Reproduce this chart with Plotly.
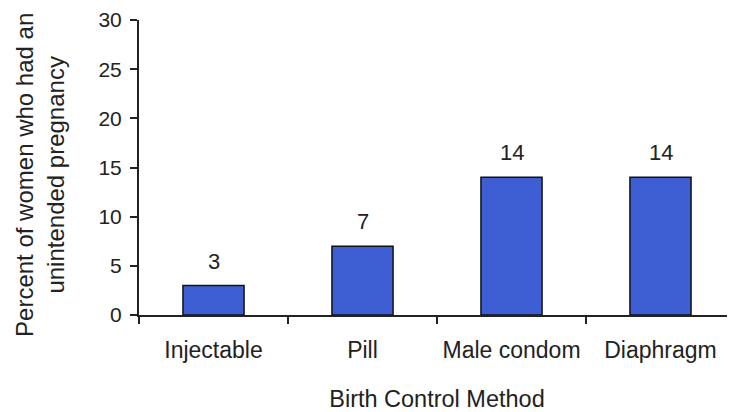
import plotly.graph_objects as go

methods = ["Injectable", "Pill", "Male condom", "Diaphragm"]
percent = [3, 7, 14, 14]
y_ticks = [0, 5, 10, 15, 20, 25, 30]
y_title = "Percent of women who had an<br>unintended pregnancy"
x_title = "Birth Control Method"

font = "Liberation Sans, Arial, sans-serif"
ink = "#222222"

fig = go.Figure(go.Bar(
    x=methods, y=percent,
    width=0.41,
    marker=dict(color="#3d5fd3", line=dict(color="#111111", width=1.5)),
))

for m, v in zip(methods, percent):
    fig.add_annotation(x=m, y=v, text=str(v), showarrow=False,
                       yanchor="bottom", yshift=10,
                       font=dict(family=font, size=22, color=ink))

fig.add_annotation(xref="paper", yref="paper", x=-0.166, y=0.475,
                   text=y_title, showarrow=False, textangle=-90,
                   xanchor="center", yanchor="middle",
                   font=dict(family=font, size=24, color=ink))

# page body has an 8px margin, so the figure is sized/offset to compensate
fig.update_layout(
    width=727, height=404,
    margin=dict(l=131, r=0, t=12, b=97, autoexpand=False),
    paper_bgcolor="white", plot_bgcolor="white",
    showlegend=False,
    font=dict(family=font, size=22, color=ink),
    xaxis=dict(
        range=[-0.5, 3.5],
        showline=True, linecolor=ink, linewidth=2,
        ticks="outside", tickson="boundaries", ticklen=7, tickwidth=1.5, tickcolor=ink,
        tickfont=dict(size=23), ticklabelstandoff=13,
        title=dict(text=x_title, font=dict(size=23.5), standoff=32),
        showgrid=False, automargin=False,
    ),
    yaxis=dict(
        range=[0, 30],
        tickvals=y_ticks,
        showline=True, linecolor=ink, linewidth=2,
        ticks="outside", ticklen=7, tickwidth=1.5, tickcolor=ink,
        tickfont=dict(size=21), ticklabelstandoff=4,
        showgrid=False, zeroline=False, automargin=False,
    ),
)

fig.write_html("out.html")
